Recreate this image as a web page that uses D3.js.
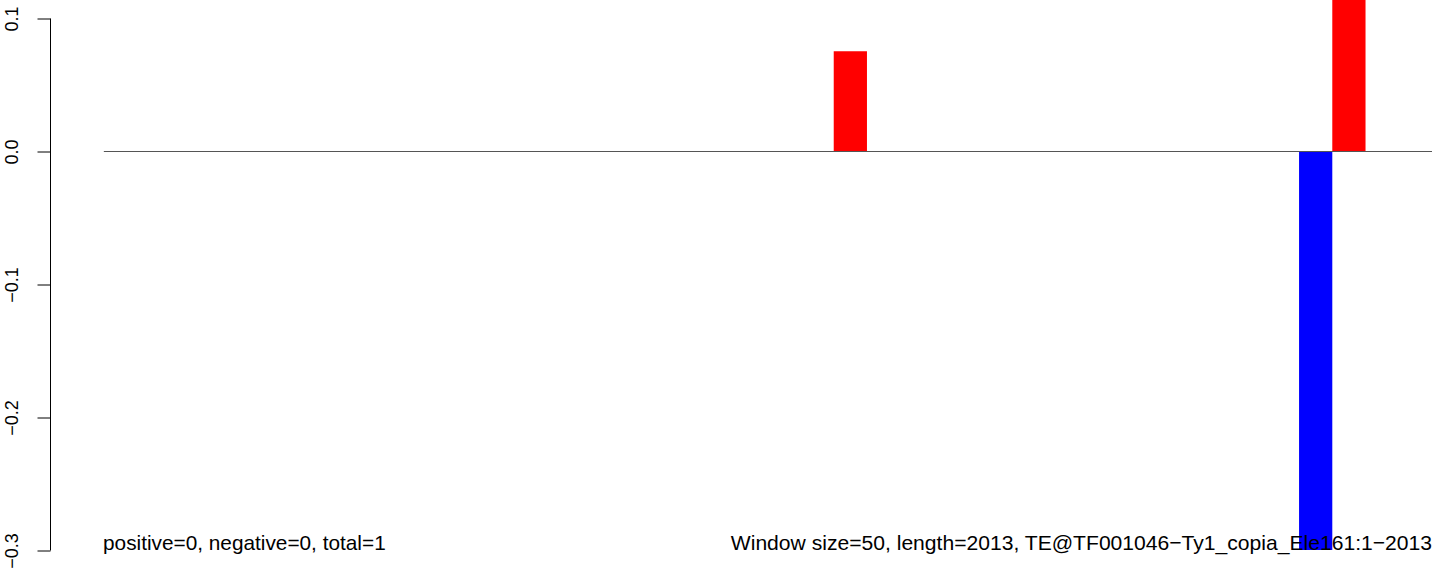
<!DOCTYPE html>
<html>
<head>
<meta charset="utf-8">
<script src="https://cdn.jsdelivr.net/npm/d3@7"></script>
<style>
  body { margin: 0; background: #fff; }
  svg text { font-family: "Liberation Sans", Arial, sans-serif; }
</style>
</head>
<body>
<div id="chart"></div>
<script>
// window start positions (bp) and score of each window
var windowStarts = [1100, 1800, 1850];
var windowScores = [0.075, -0.3, 0.15];
var windowSize = 50;
var seqLength = 2013;
var yTicks = [0.1, 0.0, -0.1, -0.2, -0.3];
var leftNote = "positive=0, negative=0, total=1";
var rightNote = "Window size=50, length=2013, TE@TF001046\u2212Ty1_copia_Ele161:1\u22122013";

function fmt(v) {
  return d3.format(".1f")(v).replace("-", "\u2212");
}

function drawChart() {
  var W = 1444, H = 571;
  var svg = d3.select("#chart").append("svg")
    .attr("width", W).attr("height", H);

  var xScale = d3.scaleLinear().domain([0, 2000]).range([102.5, 1432]);
  var yScale = d3.scaleLinear().domain([-0.3, 0.1]).range([550, 18]);

  var data = windowStarts.map(function(s, i) {
    return { start: s, score: windowScores[i] };
  });

  // bars
  svg.selectAll(".bar").data(data).enter().append("rect")
    .attr("class", "bar")
    .attr("x", function(d) { return xScale(d.start); })
    .attr("width", function(d) { return xScale(d.start + windowSize) - xScale(d.start); })
    .attr("y", function(d) { return yScale(Math.max(0, d.score)); })
    .attr("height", function(d) { return Math.abs(yScale(d.score) - yScale(0)); })
    .attr("fill", function(d) { return d.score >= 0 ? "#ff0000" : "#0000ff"; });

  // zero line
  svg.append("line")
    .attr("x1", xScale(2)).attr("x2", xScale(2000))
    .attr("y1", yScale(0) + 0.5).attr("y2", yScale(0) + 0.5)
    .attr("stroke", "#555").attr("stroke-width", 1);

  // y axis
  var axis = d3.axisLeft(yScale).tickValues(yTicks).tickSize(13).tickPadding(0).tickFormat(fmt);
  var gAxis = svg.append("g").attr("transform", "translate(50.5,0.5)").call(axis);
  gAxis.select(".domain").attr("d", "M0," + yScale(0.1) + "V" + yScale(-0.3))
    .attr("stroke", "#000");
  gAxis.selectAll(".tick line").attr("stroke", "#000");
  gAxis.selectAll(".tick text")
    .attr("font-size", 18)
    .attr("fill", "#000")
    .attr("x", null).attr("dy", null)
    .attr("text-anchor", "middle")
    .attr("transform", "translate(-32.5,0) rotate(-90)");

  // notes
  svg.append("text")
    .attr("x", 103).attr("y", 550)
    .attr("font-size", 20.8).attr("fill", "#000")
    .text(leftNote);
  svg.append("text")
    .attr("x", 1432).attr("y", 550)
    .attr("font-size", 21.1).attr("fill", "#000")
    .attr("text-anchor", "end")
    .text(rightNote);
}

drawChart();
</script>
</body>
</html>
